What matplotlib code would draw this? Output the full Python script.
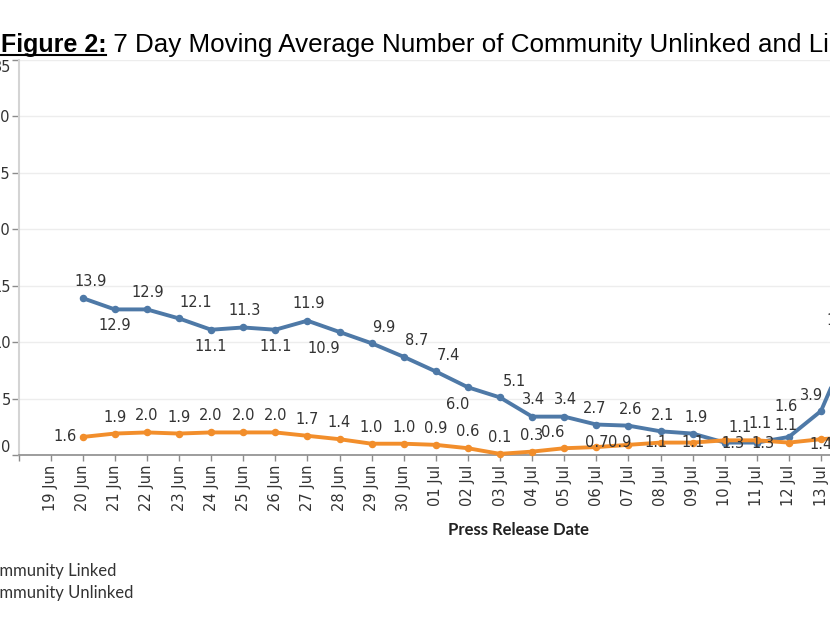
import numpy as np
import matplotlib
matplotlib.use("Agg")
import matplotlib.pyplot as plt
from matplotlib.lines import Line2D

W, H, DPI = 830, 622, 100

# --------------------------------------------------------------------------- #
# data (7-day moving average)
dates = ["19 Jun", "20 Jun", "21 Jun", "22 Jun", "23 Jun", "24 Jun", "25 Jun",
         "26 Jun", "27 Jun", "28 Jun", "29 Jun", "30 Jun", "01 Jul", "02 Jul",
         "03 Jul", "04 Jul", "05 Jul", "06 Jul", "07 Jul", "08 Jul", "09 Jul",
         "10 Jul", "11 Jul", "12 Jul", "13 Jul", "14 Jul"]
first_day = 1   # both series start on 20 Jun

linked = [13.9, 12.9, 12.9, 12.1, 11.1, 11.3, 11.1, 11.9, 10.9, 9.9, 8.7,
          7.4, 6.0, 5.1, 3.4, 3.4, 2.7, 2.6, 2.1, 1.9, 1.1, 1.1, 1.6, 3.9, 10.5]
unlinked = [1.6, 1.9, 2.0, 1.9, 2.0, 2.0, 2.0, 1.7, 1.4, 1.0, 1.0,
            0.9, 0.6, 0.1, 0.3, 0.6, 0.7, 0.9, 1.1, 1.1, 1.3, 1.3, 1.1, 1.4, 1.6]

# label placement (pixel offsets from each point), as laid out in the original
linked_lbl = [(8, 17), (0, -16), (1, 17), (17, 16), (0, -17), (1, 17),
              (0, -17), (1, 17), (-16, -17), (12, 16), (13, 16), (13, 16),
              (-10, -17), (14, 16), (1, 17), (1, 17), (-2, 16), (2, 16),
              (2, 16), (3, 16), (15, 15), (3, 19), (-3, 30), (-10, 15),
              (-10, 16)]
unlinked_lbl = [(-18, 0)] + [(0, 16.5)] * 15 + [(0, 5), (-9, 2), (-4, 0),
                (0, 0), (8, -3), (6, -3), (-3, 17), (0, -5), (0, 16)]
unlinked_lbl[15] = (-12, 16)

BLUE, ORANGE = "#4e79a7", "#f28e2b"
TXT = "#333333"

# --------------------------------------------------------------------------- #
fig = plt.figure(figsize=(W / DPI, H / DPI), dpi=DPI)

px_day = 32.1
x0_px, y0_px, ytop_px = 18.5, 455, 60
xmax = 28
ax = fig.add_axes([x0_px / W, (H - y0_px) / H,
                   (xmax + 1) * px_day / W, (y0_px - ytop_px) / H])

xs = np.arange(first_day, first_day + len(linked))
ax.plot(xs, linked, "-o", color=BLUE, lw=2.8, ms=4.4, zorder=3,
        solid_capstyle="round", clip_on=False)
ax.plot(xs, unlinked, "-o", color=ORANGE, lw=2.8, ms=4.4, zorder=4,
        solid_capstyle="round", clip_on=False)

for x, v, (dx, dy) in zip(xs, linked, linked_lbl):
    ax.annotate(f"{v:.1f}", (x, v), xytext=(dx, dy),
                textcoords="offset pixels", ha="center", va="center",
                fontsize=10.5, color=TXT, zorder=6)
for x, v, (dx, dy) in zip(xs, unlinked, unlinked_lbl):
    ax.annotate(f"{v:.1f}", (x, v), xytext=(dx, dy),
                textcoords="offset pixels", ha="center", va="center",
                fontsize=10.5, color=TXT, zorder=6)

ax.set_xlim(-1, xmax)
ax.set_ylim(0, 35)
ticks = np.arange(-1, xmax)
ax.set_xticks(ticks)
ax.set_xticklabels([dates[t] if 0 <= t < len(dates) else "" for t in ticks],
                   rotation=90)
ax.set_yticks(np.arange(0, 36, 5))
ax.grid(axis="y", color="#ededed", lw=1.0)
ax.set_axisbelow(True)
for s in ("top", "right"):
    ax.spines[s].set_visible(False)
ax.spines["left"].set_color("#d4d4d4")
ax.spines["left"].set_linewidth(1.5)
ax.spines["bottom"].set_color("#8c8c8c")
ax.spines["bottom"].set_linewidth(1.2)
ax.tick_params(axis="x", length=4, width=1, color="#8c8c8c", pad=3,
               labelsize=10.5, labelcolor=TXT)
ax.tick_params(axis="y", length=5, width=1, color="#8c8c8c", pad=0.5,
               labelsize=10.5, labelcolor=TXT)
ylabels = ax.get_yticklabels()
ylabels[0].set_va("bottom")
ylabels[-1].set_va("top")

# axis title
fig.text(518 / W, 1 - 530 / H, "Press Release Date", ha="center",
         va="center", fontsize=12, fontweight="bold", family="Lato",
         color="#222222")

# --------------------------------------------------------------------------- #
# title: underlined bold "Figure 2:" followed by regular text
r = fig.canvas.get_renderer()
base_y = 1 - 52 / H
t1 = fig.text(0.5 / W, base_y, "Figure 2:", fontsize=18, fontweight="bold",
              family="Liberation Sans", va="baseline", color="black")
bb = t1.get_window_extent(r)
fig.text(bb.x1 / W, base_y, " 7 Day Moving Average Number of Community "
         "Unlinked and Linked Cases", fontsize=18.7, family="Liberation Sans",
         va="baseline", color="black")
fig.add_artist(Line2D([bb.x0 / W, bb.x1 / W], [1 - 54.5 / H, 1 - 54.5 / H],
                      color="black", lw=1.5))

# legend (left part falls off the canvas like the original)
names = ["Community Linked", "Community Unlinked"]
probe = fig.text(0, 0, "Co", fontsize=12, family="Lato")
cut = probe.get_window_extent(r).width
probe.remove()
for i, name in enumerate(names):
    fig.text(-cut / W, 1 - (571 + 22 * i) / H, name, fontsize=12,
             family="Lato", va="center", color="#333333")

fig.savefig("out.png", dpi=DPI)
